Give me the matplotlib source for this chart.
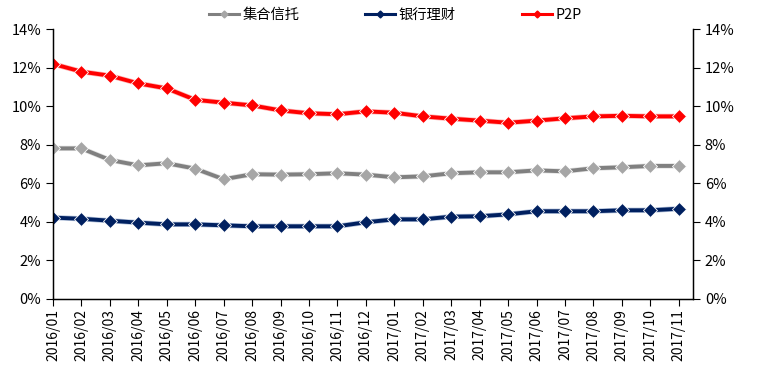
import matplotlib
matplotlib.use("Agg")
import matplotlib.pyplot as plt
import matplotlib.patheffects as pe
from matplotlib.ticker import FuncFormatter

plt.rcParams['font.family'] = ['Noto Sans CJK SC', 'DejaVu Sans']

months = ['2016/01', '2016/02', '2016/03', '2016/04', '2016/05', '2016/06',
          '2016/07', '2016/08', '2016/09', '2016/10', '2016/11', '2016/12',
          '2017/01', '2017/02', '2017/03', '2017/04', '2017/05', '2017/06',
          '2017/07', '2017/08', '2017/09', '2017/10', '2017/11']

trust = [7.81, 7.81, 7.21, 6.93, 7.04, 6.76, 6.21, 6.47, 6.45, 6.47, 6.52, 6.45,
         6.31, 6.36, 6.52, 6.57, 6.57, 6.67, 6.62, 6.78, 6.83, 6.90, 6.90]
bank = [4.22, 4.16, 4.06, 3.96, 3.87, 3.87, 3.82, 3.77, 3.77, 3.77, 3.77, 3.98,
        4.13, 4.13, 4.27, 4.29, 4.39, 4.55, 4.55, 4.55, 4.60, 4.60, 4.68]
p2p = [12.19, 11.79, 11.58, 11.18, 10.92, 10.33, 10.18, 10.04, 9.78, 9.63, 9.58, 9.73,
       9.66, 9.47, 9.35, 9.25, 9.14, 9.25, 9.37, 9.47, 9.50, 9.47, 9.47]

labels = ['集合信托', '银行理财', 'P2P']

fig = plt.figure(figsize=(7.78, 3.76), dpi=100)
ax = fig.add_axes([0.0681, 0.2048, 0.8226, 0.718])

x = list(range(len(months)))
# (values, line colour, marker colour, glow colour)
styles = [
    (trust, '#808080', '#A6A6A6', '#E0E0E0'),
    (bank, '#002060', '#002060', '#B4C3DC'),
    (p2p, '#FF0000', '#FF0000', '#FFB4B4'),
]
for vals, lc, mc, gc in styles:
    ax.plot(x, vals, color=lc, lw=2.8, solid_joinstyle='round',
            path_effects=[pe.Stroke(linewidth=3.8, foreground=gc), pe.Normal()])
    ax.plot(x, vals, ls='none', marker='D', markersize=7,
            markerfacecolor=mc, markeredgecolor='white', markeredgewidth=0.6)

ax.set_xlim(0, 22.5)
ax.set_ylim(0, 14)
ax.set_yticks(range(0, 15, 2))
pct = FuncFormatter(lambda v, p: f'{int(v)}%')
ax.yaxis.set_major_formatter(pct)
ax.set_xticks(x)
ax.set_xticklabels(months, rotation=90, fontsize=10)
ax.tick_params(axis='y', labelsize=10.5, direction='out', length=5, color='black')
ax.tick_params(axis='x', direction='out', length=5, color='black', pad=2)
ax.spines['top'].set_visible(False)
for s in ['left', 'bottom', 'right']:
    ax.spines[s].set_color('black')
    ax.spines[s].set_linewidth(1)

ax2 = ax.twinx()
ax2.set_ylim(0, 14)
ax2.set_yticks(range(0, 15, 2))
ax2.yaxis.set_major_formatter(pct)
ax2.tick_params(axis='y', labelsize=10.5, direction='out', length=5, color='black')
ax2.spines['top'].set_visible(False)
ax2.spines['right'].set_color('black')

leg_handles = []
for vals, lc, mc, gc in styles:
    leg_handles.append(plt.Line2D([], [], color=lc, lw=2.2, marker='D', markersize=3.5,
                                  markerfacecolor=mc, markeredgecolor=mc))
fig.legend(leg_handles, labels, loc='upper center', bbox_to_anchor=(0.508, 1.012), ncol=3,
           frameon=False, fontsize=10.3, handlelength=2.1, handletextpad=0.25,
           columnspacing=4.6)

fig.savefig('out.png', dpi=100)
